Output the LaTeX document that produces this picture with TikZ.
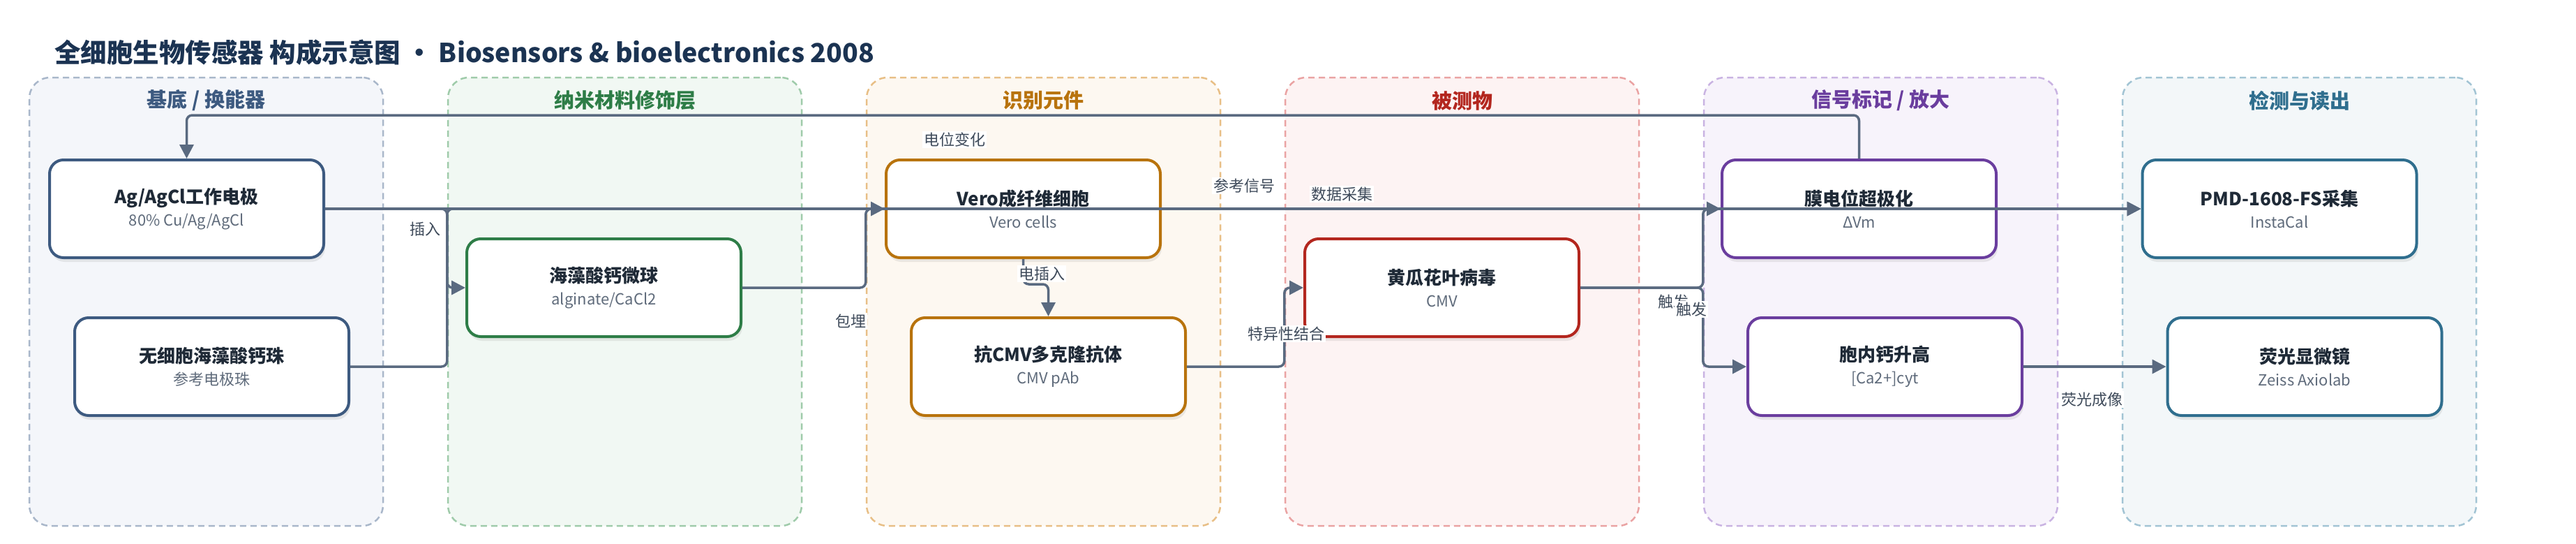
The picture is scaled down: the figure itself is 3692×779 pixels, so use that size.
\documentclass[tikz,border=0pt]{standalone}
\usepackage{fontspec}
\setmainfont{Noto Sans CJK SC}
\usetikzlibrary{arrows.meta,shadows}

\definecolor{ink}{HTML}{1F2A37}
\definecolor{navy}{HTML}{1B3352}
\definecolor{wire}{HTML}{5A6A80}
\definecolor{tagc}{HTML}{3E4A5A}
\definecolor{subgray}{HTML}{5F6B7B}
\definecolor{baseC}{HTML}{3D5A80}
\definecolor{baseD}{HTML}{A9B7CA}
\definecolor{baseF}{HTML}{F4F6FA}
\definecolor{nanoC}{HTML}{2E7D47}
\definecolor{nanoD}{HTML}{9FCBAA}
\definecolor{nanoF}{HTML}{F1F8F3}
\definecolor{recoC}{HTML}{B8730D}
\definecolor{recoD}{HTML}{E8BF86}
\definecolor{recoF}{HTML}{FDF8F1}
\definecolor{anaC}{HTML}{B3261E}
\definecolor{anaD}{HTML}{EAA3A3}
\definecolor{anaF}{HTML}{FDF3F3}
\definecolor{sigC}{HTML}{6A3D9E}
\definecolor{sigD}{HTML}{C9B3E2}
\definecolor{sigF}{HTML}{F7F3FB}
\definecolor{detC}{HTML}{2F6E8E}
\definecolor{detD}{HTML}{A2C4D4}
\definecolor{detF}{HTML}{F3F7F9}

\newcommand{\boxtext}[2]{{\bfseries #1}\\[1pt]{\fontsize{22}{26}\selectfont\color{subgray}#2}}

\begin{document}
\begin{tikzpicture}[x=1pt, y=-1pt, node distance=226pt,
    lane/.style 2 args={draw=#1, fill=#2, line width=2.5pt, dash pattern=on 9pt off 6pt, rounded corners=30pt, minimum width=507pt, minimum height=642pt},
    lanehead/.style={font=\fontsize{29}{33}\selectfont\bfseries, text=#1},
    main/.style={draw=#1, fill=white, line width=4pt, rounded corners=20pt, minimum width=393pt, minimum height=140pt, align=center, text=ink, font=\fontsize{26}{31}\selectfont, drop shadow={shadow xshift=2pt, shadow yshift=-6pt, opacity=0.15}},
    link/.style={draw=wire, line width=3.5pt, rounded corners=8pt, -{Triangle[length=20pt, width=20pt]}},
    tag/.style={fill=white, text=tagc, font=\fontsize{22}{26}\selectfont, inner sep=2pt}]
    \useasboundingbox (0,0) rectangle (3692,779);

    \node[anchor=west, inner sep=0pt, text=navy, font=\fontsize{37.5}{45}\selectfont\bfseries] (title) at (78,75) {全细胞生物传感器 构成示意图 • Biosensors \& bioelectronics 2008};

    \node[lane={baseD}{baseF}] (l1) at (295.5,432) {};
    \node[lane={nanoD}{nanoF}] (l2) at (895.5,432) {};
    \node[lane={recoD}{recoF}] (l3) at (1495.5,432) {};
    \node[lane={anaD}{anaF}]   (l4) at (2095.5,432) {};
    \node[lane={sigD}{sigF}]   (l5) at (2695.5,432) {};
    \node[lane={detD}{detF}]   (l6) at (3295.5,432) {};

    \node[lanehead=baseC] (h1) at (295.5,144) {基底 / 换能器};
    \node[lanehead=nanoC] (h2) at (895.5,144) {纳米材料修饰层};
    \node[lanehead=recoC] (h3) at (1495.5,144) {识别元件};
    \node[lanehead=anaC]  (h4) at (2095.5,144) {被测物};
    \node[lanehead=sigC]  (h5) at (2695.5,144) {信号标记 / 放大};
    \node[lanehead=detC]  (h6) at (3295.5,144) {检测与读出};

    \node[main=baseC] (ag)   at (267.5,299)  {\boxtext{Ag/AgCl工作电极}{80\% Cu/Ag/AgCl}};
    \node[main=baseC] (wx)   [below of=ag, xshift=36pt] {\boxtext{无细胞海藻酸钙珠}{参考电极珠}};
    \node[main=nanoC] (hz)   at (865.5,412)  {\boxtext{海藻酸钙微球}{alginate/CaCl2}};
    \node[main=recoC] (vero) at (1466.5,299) {\boxtext{Vero成纤维细胞}{Vero cells}};
    \node[main=recoC] (kt)   [below of=vero, xshift=36pt] {\boxtext{抗CMV多克隆抗体}{CMV pAb}};
    \node[main=anaC]  (hg)   at (2066.5,412) {\boxtext{黄瓜花叶病毒}{CMV}};
    \node[main=sigC]  (mo)   at (2664.5,299) {\boxtext{膜电位超极化}{ΔVm}};
    \node[main=sigC]  (gai)  [below of=mo, xshift=37pt] {\boxtext{胞内钙升高}{[Ca2+]cyt}};
    \node[main=detC]  (pmd)  at (3267,299)   {\boxtext{PMD-1608-FS采集}{InstaCal}};
    \node[main=detC]  (yg)   [below of=pmd, xshift=36pt] {\boxtext{荧光显微镜}{Zeiss Axiolab}};

    \draw[link] (ag.east) -- (ag.east -| l2.west) |- (hz.west);
    \draw[link] (wx.east) -- (wx.east -| l2.west) |- (pmd.west);
    \draw[link] (ag.east) -- (pmd.west);
    \draw[link] (hz.east) -- (hz.east -| l3.west) |- (vero.west);
    \draw[link] (vero.south) -- ++(0,36) -| (kt.north);
    \draw[link] (kt.east) -- (kt.east -| l4.west) |- (hg.west);
    \draw[link] (hg.east) -- (hg.east -| l5.west) |- (mo.west);
    \draw[link] (hg.east) -- (hg.east -| l5.west) |- (gai.west);
    \draw[link] (gai.east) -- (yg.west);
    \draw[link] (mo.north) -- ++(0,-62) -| (ag.north);

    \node[tag] (t1)  at (609,328)  {插入};
    \node[tag] (t2)  at (1219,460) {包埋};
    \node[tag] (t3)  at (1368,200) {电位变化};
    \node[tag] (t4)  at (1493,392) {电插入};
    \node[tag] (t5)  at (1783,266) {参考信号};
    \node[tag] (t6)  at (1923,278) {数据采集};
    \node[tag] (t7)  at (1843,478) {特异性结合};
    \node[tag] (t8)  at (2398,432) {触发};
    \node[tag] (t9)  at (2424,443) {触发};
    \node[tag] (t10) at (2998,572) {荧光成像};
\end{tikzpicture}
\end{document}
